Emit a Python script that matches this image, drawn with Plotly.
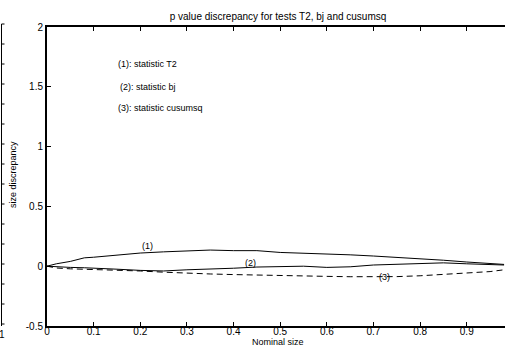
import plotly.graph_objects as go

nominal = [0, 0.02, 0.05, 0.08, 0.1, 0.15, 0.2, 0.25, 0.3, 0.35, 0.4, 0.45, 0.5,
           0.55, 0.6, 0.65, 0.7, 0.75, 0.8, 0.85, 0.9, 0.95, 0.98]
stat_T2 = [0, 0.02, 0.04, 0.07, 0.075, 0.095, 0.11, 0.12, 0.13, 0.135, 0.13, 0.13, 0.115,
           0.11, 0.1, 0.095, 0.085, 0.075, 0.06, 0.05, 0.035, 0.025, 0.015]
stat_bj = [0, -0.005, -0.01, -0.013, -0.015, -0.025, -0.035, -0.04, -0.03, -0.025, -0.017, -0.007, -0.005,
           0.0, -0.01, -0.005, 0.01, 0.015, 0.02, 0.028, 0.02, 0.015, 0.01]
stat_cusumsq = [0, -0.015, -0.022, -0.025, -0.03, -0.035, -0.04, -0.05, -0.06, -0.065, -0.07, -0.075, -0.08,
                -0.083, -0.085, -0.088, -0.09, -0.087, -0.08, -0.07, -0.06, -0.045, -0.03]

x_ticks = [0, 0.1, 0.2, 0.3, 0.4, 0.5, 0.6, 0.7, 0.8, 0.9]
x_tick_text = ["0", "0.1", "0.2", "0.3", "0.4", "0.5", "0.6", "0.7", "0.8", "0.9"]
y_ticks = [-0.5, 0, 0.5, 1, 1.5, 2]
y_tick_text = ["-0.5", "0", "0.5", "1", "1.5", "2"]

legend_lines = ["(1): statistic T2", "(2): statistic bj", "(3): statistic cusumsq"]
curve_labels = [("(1)", 0.215, 0.165), ("(2)", 0.436, 0.025), ("(3)", 0.723, -0.09)]

FONT = "Liberation Sans, Arial, sans-serif"
PW = 458.0  # plot area width in px
PH = 299.0  # plot area height in px

fig = go.Figure()
fig.add_trace(go.Scatter(x=nominal, y=stat_T2, mode="lines",
                         line=dict(color="black", width=1), showlegend=False))
fig.add_trace(go.Scatter(x=nominal, y=stat_bj, mode="lines",
                         line=dict(color="black", width=1), showlegend=False))
fig.add_trace(go.Scatter(x=nominal, y=stat_cusumsq, mode="lines",
                         line=dict(color="black", width=1, dash="6px,4px"), showlegend=False))

annotations = []
for i, txt in enumerate(legend_lines):
    annotations.append(dict(x=0.149 + (0.004 if i == 1 else 0), y=[1.69, 1.5, 1.32][i],
                            xref="x", yref="y", text=txt, showarrow=False,
                            xanchor="left", yanchor="middle",
                            font=dict(size=9, color="black", family=FONT)))
for txt, xx, yy in curve_labels:
    annotations.append(dict(x=xx, y=yy, xref="x", yref="y", text=txt, showarrow=False,
                            xanchor="center", yanchor="middle",
                            font=dict(size=9, color="black", family=FONT)))

# axis titles
annotations.append(dict(x=(278 - 47) / PW, y=(326 - 342) / PH, xref="paper", yref="paper",
                        text="Nominal size", showarrow=False, xanchor="center", yanchor="middle",
                        font=dict(size=9, color="black", family=FONT)))
annotations.append(dict(x=(13 - 47) / PW, y=(326 - 175) / PH, xref="paper", yref="paper",
                        text="size discrepancy", showarrow=False, textangle=-90,
                        xanchor="center", yanchor="middle",
                        font=dict(size=9, color="black", family=FONT)))
# cropped neighbouring panel tick label
annotations.append(dict(x=(2 - 47) / PW, y=(326 - 334) / PH, xref="paper", yref="paper", text="1",
                        showarrow=False, xanchor="center", yanchor="middle",
                        font=dict(size=10, color="black", family=FONT)))

shapes = []
# cropped neighbouring panel frame at left edge
lx = (1.5 - 47) / PW
shapes.append(dict(type="line", xref="paper", yref="paper", x0=lx, x1=lx,
                   y0=0, y1=(326 - 24) / PH, line=dict(color="black", width=1)))
for k in range(16):
    yp = (326 - 24 - k * 20) / PH
    if yp < 0:
        break
    shapes.append(dict(type="line", xref="paper", yref="paper", x0=lx, x1=lx + 3 / PW,
                       y0=yp, y1=yp, line=dict(color="black", width=1)))

fig.update_layout(
    width=505, height=347,
    margin=dict(l=47, r=0, t=27, b=21, autoexpand=False),
    paper_bgcolor="white", plot_bgcolor="white",
    font=dict(family=FONT, size=10, color="black"),
    title=dict(text="p value discrepancy for tests T2, bj and cusumsq",
               x=278 / 505, xanchor="center", y=1 - 16 / 347, yanchor="middle",
               yref="container", font=dict(size=10, family=FONT, color="black")),
    annotations=annotations,
    shapes=shapes,
)
fig.update_xaxes(range=[0, 0.982], tickvals=x_ticks, ticktext=x_tick_text,
                 ticks="inside", ticklen=4, tickcolor="black", tickwidth=1,
                 showline=True, linecolor="black", linewidth=2, mirror="ticks",
                 showgrid=False, zeroline=False, tickfont=dict(size=10), automargin=False,
                 ticklabelstandoff=-5)
fig.update_yaxes(range=[-0.5, 2], tickvals=y_ticks, ticktext=y_tick_text,
                 ticks="inside", ticklen=4, tickcolor="black", tickwidth=1,
                 showline=True, linecolor="black", linewidth=2, mirror=False,
                 showgrid=False, zeroline=False, tickfont=dict(size=10), automargin=False)

fig.write_html("out.html", config={"displayModeBar": False},
               post_script="document.body.style.margin='0';document.body.style.overflow='hidden';")
